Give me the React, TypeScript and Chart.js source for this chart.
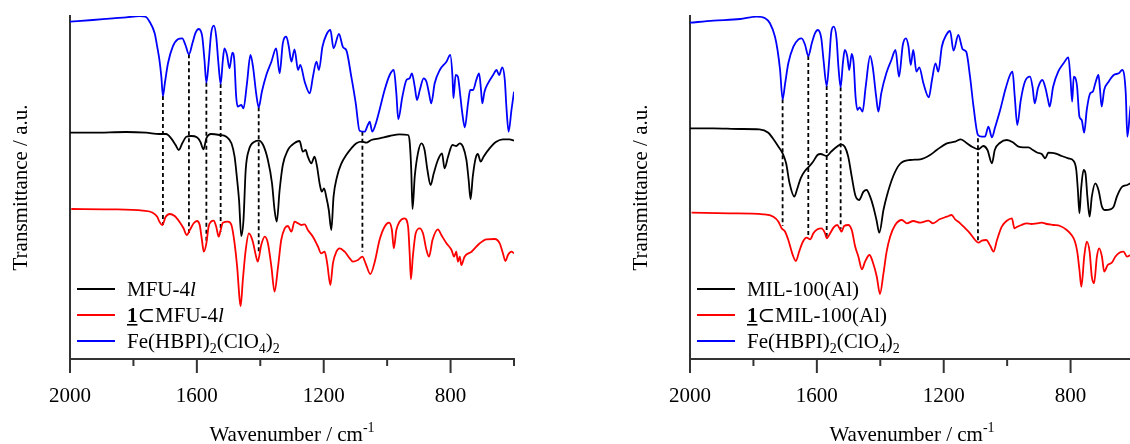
import React, { useEffect, useRef } from 'react';
import { Chart, registerables } from 'chart.js';

Chart.register(...registerables);

// ---------- axis ticks ----------
const X_TICKS = [2000, 1800, 1600, 1400, 1200, 1000, 800, 600];
const X_MAJOR = [2000, 1600, 1200, 800];

// ---------- MFU-4l panel: [wavenumber, transmittance (a.u.)] ----------
const MFU_BLUE: [number, number][] = [
  [2000, 337.3], [1928, 339], [1865, 340.7], [1823, 341.7], [1781, 343], [1762, 342.3], [1749, 337.3],
  [1733, 325.7], [1725, 312.3], [1718, 299], [1712, 282.3], [1707, 263], [1701, 275.7], [1691, 295.7],
  [1676, 312.3], [1660, 319.7], [1646, 320.7], [1636, 314], [1625, 304.7], [1614, 315.7], [1604, 326.3],
  [1594, 330], [1583, 322.3], [1576, 299], [1570, 276.3], [1563, 295.7], [1555, 325.7], [1546, 333.3],
  [1539, 322.3], [1532, 295.7], [1525, 275], [1518, 299], [1513, 310.7], [1505, 304], [1497, 290.7],
  [1488, 306.3], [1482, 299], [1476, 262.3], [1471, 252.3], [1460, 254], [1453, 250.7], [1442, 275.7],
  [1431, 304], [1423, 292.3], [1413, 265.7], [1405, 251.7], [1395, 267.3], [1381, 284], [1365, 297.3],
  [1350, 310.7], [1339, 285.7], [1329, 315.7], [1318, 322.3], [1310, 312.3], [1302, 297.3], [1292, 309.7],
  [1281, 289], [1274, 294], [1260, 277.3], [1244, 265.7], [1234, 282.3], [1223, 297.3], [1215, 289],
  [1204, 312.3], [1192, 324], [1179, 329], [1169, 310.7], [1152, 325], [1139, 311.7], [1129, 309],
  [1113, 282.3], [1099, 255.7], [1087, 228.3], [1071, 227.3], [1061, 234], [1055, 237.3], [1047, 227.3],
  [1034, 237.3], [1024, 249], [1008, 269], [992, 284], [979, 289], [971, 265.7], [965, 239.7],
  [952, 262.3], [939, 279], [929, 280.7], [922, 285.7], [913, 272.3], [906, 259], [897, 269],
  [885, 280.7], [876, 277.3], [868, 265.7], [861, 255.7], [850, 275.7], [834, 289], [813, 297.3],
  [801, 304], [794, 282.3], [791, 260.7], [784, 284], [777, 282.3], [769, 262.3], [763, 245.7],
  [755, 231.7], [745, 255.7], [738, 269], [729, 269], [719, 279], [710, 285.7], [704, 269], [700, 255.7],
  [693, 267.3], [682, 275.7], [666, 284], [655, 289], [647, 284], [637, 291.7], [629, 279], [624, 252.3],
  [617, 227.3], [608, 249], [600, 267.3],
];

const MFU_BLACK: [number, number][] = [
  [2000, 226.3], [1928, 226.3], [1823, 227], [1760, 226.3], [1718, 225], [1697, 225], [1681, 220.7],
  [1667, 214], [1657, 209], [1646, 215.7], [1633, 222.3], [1618, 223], [1600, 221.7], [1589, 217.3],
  [1579, 209.7], [1570, 220.7], [1555, 225], [1528, 224], [1507, 222.3], [1491, 215.7], [1481, 202.3],
  [1474, 182.3], [1467, 159], [1460, 123], [1453, 139], [1446, 189], [1436, 209], [1418, 217.3],
  [1405, 218.3], [1391, 214], [1376, 199], [1363, 175.7], [1355, 149], [1348, 137.3], [1339, 169],
  [1329, 194], [1313, 209], [1300, 214], [1276, 218], [1266, 207.3], [1257, 209], [1250, 202.3],
  [1239, 195.7], [1229, 202.3], [1221, 192.3], [1213, 175.7], [1206, 167.3], [1199, 170.7], [1192, 162.3],
  [1184, 149], [1176, 129], [1169, 162.3], [1158, 182.3], [1144, 195.7], [1129, 204], [1113, 210.7],
  [1097, 215.7], [1079, 217.3], [1066, 216.3], [1050, 219], [1024, 220.7], [992, 223], [961, 224.7],
  [934, 224], [929, 217.3], [924, 189], [920, 150], [913, 182.3], [903, 205.7], [892, 215.7], [882, 209],
  [873, 189], [863, 174], [853, 185.7], [840, 199], [827, 205.7], [819, 190.7], [808, 202.3], [794, 214],
  [782, 213], [771, 215.7], [761, 212.3], [750, 199], [743, 179], [737, 159.7], [730, 182.3], [721, 200.7],
  [714, 205], [705, 197.3], [696, 202.3], [677, 210.7], [656, 217.3], [635, 219.7], [614, 219.7], [600, 218.3],
];

const MFU_RED: [number, number][] = [
  [1996, 150], [1875, 149.7], [1770, 148.3], [1739, 146.3], [1725, 142.3], [1718, 137.3], [1709, 134],
  [1699, 141.7], [1686, 145], [1670, 143], [1655, 137.3], [1642, 130.7], [1632, 124], [1621, 129.7],
  [1610, 135.7], [1600, 138], [1591, 134], [1584, 119], [1578, 107.3], [1570, 115.7], [1563, 132.3],
  [1555, 137.3], [1547, 138.3], [1539, 132.3], [1531, 122.3], [1525, 129], [1518, 136.3], [1502, 137.3],
  [1491, 134], [1481, 115.7], [1473, 92.3], [1465, 59], [1462, 53], [1455, 79], [1446, 109], [1436, 125.7],
  [1425, 119], [1413, 102.3], [1408, 97.3], [1397, 114], [1386, 122.3], [1376, 115.7], [1365, 92.3],
  [1355, 67.3], [1344, 92.3], [1334, 119], [1323, 130.7], [1313, 133], [1302, 127.3], [1292, 137.3],
  [1281, 135.7], [1271, 134], [1260, 134.7], [1250, 129], [1234, 122.3], [1218, 112.3], [1208, 105.7],
  [1197, 107.3], [1189, 95.7], [1179, 74], [1171, 95.7], [1160, 107.3], [1150, 110.7], [1134, 107.3],
  [1118, 100.7], [1108, 97.3], [1092, 99], [1078, 102.3], [1068, 95.7], [1053, 85], [1039, 97.3],
  [1024, 119], [1008, 132.3], [994, 136.3], [985, 129], [979, 110.7], [971, 129], [961, 137.3],
  [945, 140.7], [934, 132.3], [929, 105.7], [925, 79.7], [919, 102.3], [910, 125.7], [897, 130.7],
  [887, 125.7], [876, 109], [868, 102.3], [857, 119], [840, 129.7], [829, 124], [813, 115.7], [797, 109],
  [789, 102.3], [782, 107.3], [777, 97.3], [771, 102.3], [766, 94], [756, 102.3], [734, 107.3],
  [708, 115.7], [687, 119.7], [661, 120], [645, 115.7], [635, 105.7], [627, 98], [619, 104], [608, 107.3],
  [600, 105.7],
];

const MFU_DASH_W = [1707, 1625, 1570, 1525, 1405, 1078];
const MFU_DASH_TOP = [263, 304.7, 276.3, 275, 251.7, 227.3];
const MFU_DASH_BOTTOM = [134, 126, 116, 127.3, 106, 107.3];

// ---------- MIL-100(Al) panel ----------
const MIL_BLUE: [number, number][] = [
  [2000, 336.3], [1926, 338.3], [1842, 340], [1790, 342.3], [1763, 340.7], [1748, 335.7], [1732, 322.3],
  [1724, 309], [1716, 289], [1708, 259.7], [1700, 275.7], [1690, 295.7], [1674, 312.3], [1658, 319.7],
  [1648, 320.7], [1637, 314], [1627, 303], [1616, 315.7], [1606, 325.7], [1597, 329], [1586, 320.7],
  [1579, 299], [1569, 273], [1561, 299], [1555, 325.7], [1547, 332.3], [1538, 320.7], [1532, 292.3],
  [1525, 271.7], [1518, 295.7], [1512, 309], [1504, 302.3], [1498, 289], [1490, 305], [1484, 295.7],
  [1478, 262.3], [1472, 249], [1465, 251.7], [1456, 247.3], [1446, 272.3], [1432, 303], [1424, 292.3],
  [1413, 262.3], [1406, 247.3], [1397, 265.7], [1381, 285.7], [1365, 299], [1352, 309], [1341, 282.3],
  [1329, 314], [1319, 320.7], [1311, 312.3], [1304, 294], [1296, 309], [1286, 287.3], [1277, 291.7],
  [1264, 275.7], [1247, 261.7], [1237, 279], [1226, 295.7], [1217, 287.3], [1206, 312.3], [1192, 324],
  [1180, 328], [1169, 308.3], [1154, 324], [1140, 309.7], [1129, 307.3], [1117, 282.3], [1106, 252.3],
  [1092, 224], [1080, 222.3], [1070, 222.3], [1059, 232.3], [1048, 221.7], [1038, 231.7], [1022, 249],
  [1006, 269], [991, 284], [983, 287.3], [976, 262.3], [968, 234], [957, 259], [944, 277.3], [928, 282.3],
  [920, 272.3], [913, 255.7], [903, 270.7], [889, 279], [879, 270.7], [871, 259], [866, 252.3],
  [855, 272.3], [839, 287.3], [822, 295.7], [807, 301.7], [800, 279], [795, 257.3], [790, 282.3],
  [780, 274], [772, 242.3], [765, 239], [757, 226.3], [749, 249], [738, 265.7], [730, 267.3], [722, 275.7],
  [712, 284], [707, 269], [702, 252.3], [694, 269], [680, 277.3], [664, 284], [648, 285.7], [637, 289],
  [626, 265.7], [621, 222.3], [611, 252.3], [600, 267],
];

const MIL_BLACK: [number, number][] = [
  [2000, 230.7], [1926, 230.7], [1842, 230], [1781, 229.7], [1753, 226.3], [1739, 220.7], [1721, 212.3],
  [1708, 205.7], [1697, 195.7], [1686, 175.7], [1671, 162.3], [1663, 169], [1651, 180.7], [1637, 188.3],
  [1625, 192.3], [1612, 197.3], [1598, 204], [1588, 205], [1569, 203], [1555, 207.3], [1537, 212.3],
  [1524, 214.7], [1512, 212.3], [1501, 202.3], [1490, 182.3], [1479, 164], [1467, 159], [1453, 167.3],
  [1443, 169], [1432, 162.3], [1422, 152.3], [1412, 139], [1403, 126.3], [1390, 149], [1380, 162.3],
  [1359, 183], [1338, 195], [1306, 199], [1274, 199.7], [1243, 204], [1222, 209], [1190, 215.7],
  [1164, 217.3], [1146, 219.7], [1127, 215.7], [1111, 212.3], [1091, 209.7], [1075, 213], [1062, 209],
  [1048, 195.7], [1039, 209], [1022, 216.3], [1001, 219], [980, 216.3], [964, 212.3], [949, 211.7],
  [933, 211.7], [919, 209], [904, 206.3], [891, 205], [880, 200.7], [870, 206.3], [849, 205.7], [828, 203],
  [807, 200.7], [791, 198.3], [782, 189], [777, 169], [772, 145.7], [767, 169], [759, 189], [753, 185.7],
  [747, 162.3], [740, 142.3], [733, 162.3], [722, 175.7], [712, 169], [701, 152.3], [691, 149],
  [675, 149.7], [664, 152.3], [654, 162.3], [637, 172.3], [621, 174], [611, 175.7], [600, 177],
];

const MIL_RED: [number, number][] = [
  [1995, 146.3], [1874, 145.7], [1769, 144.7], [1737, 142.3], [1721, 137.3], [1711, 130.7], [1700, 127.3],
  [1690, 119], [1676, 104], [1666, 98], [1656, 107.3], [1644, 117.3], [1632, 121.3], [1621, 119.7],
  [1611, 125.7], [1598, 129.7], [1586, 130.7], [1574, 125.7], [1569, 120.7], [1558, 125.7], [1547, 131.7],
  [1536, 134], [1527, 129.7], [1522, 127.3], [1514, 133], [1501, 134], [1490, 129], [1479, 112.3],
  [1469, 102.3], [1458, 89.7], [1448, 97.3], [1434, 104], [1424, 97.3], [1411, 82.3], [1401, 65],
  [1390, 85.7], [1380, 107.3], [1369, 122.3], [1353, 134], [1332, 139], [1316, 135.7], [1296, 138],
  [1274, 136.3], [1248, 138.3], [1234, 135.7], [1213, 139.7], [1190, 142.3], [1175, 144], [1164, 139.7],
  [1148, 135.7], [1132, 130.7], [1117, 125.7], [1101, 119], [1090, 116.3], [1080, 118.3], [1066, 119],
  [1053, 113], [1043, 107.3], [1032, 119], [1017, 132.3], [1001, 138.3], [985, 140.7], [977, 130.7],
  [968, 132.3], [955, 134], [939, 135.7], [923, 135], [906, 135.7], [891, 136.3], [875, 135], [854, 134],
  [833, 133], [812, 129], [797, 124], [786, 117.3], [779, 107.3], [772, 89], [766, 72.3], [757, 102.3],
  [749, 117.3], [740, 107.3], [733, 82.3], [726, 75.7], [717, 102.3], [710, 110.7], [701, 102.3],
  [694, 87.3], [683, 94], [670, 96.3], [659, 102.3], [646, 106.3], [633, 107.3], [622, 102.3], [611, 104],
  [600, 105],
];

const MIL_DASH_W = [1708, 1627, 1569, 1525, 1092];
const MIL_DASH_TOP = [259.7, 303, 273, 271.7, 220.7];
const MIL_DASH_BOTTOM = [133, 122.3, 122.3, 129.7, 116.3];

// ---------- styling ----------
const FAMILY = "'Liberation Serif', 'Times New Roman', 'DejaVu Serif', serif";
const AXIS = '#333333';
const C_BLACK = '#000000';
const C_RED = '#ff0000';
const C_BLUE = '#0000ff';

type Seg = { t: string; italic?: boolean; bold?: boolean; sub?: boolean; sup?: boolean; underline?: boolean };

const LEG_FE: Seg[] = [
  { t: 'Fe(HBPI)' }, { t: '2', sub: true }, { t: '(ClO' }, { t: '4', sub: true }, { t: ')' }, { t: '2', sub: true },
];
const MFU_LEGEND: { color: string; segs: Seg[] }[] = [
  { color: C_BLACK, segs: [{ t: 'MFU-4' }, { t: 'l', italic: true }] },
  { color: C_RED, segs: [{ t: '1', bold: true, underline: true }, { t: '\u2282MFU-4' }, { t: 'l', italic: true }] },
  { color: C_BLUE, segs: LEG_FE },
];
const MIL_LEGEND: { color: string; segs: Seg[] }[] = [
  { color: C_BLACK, segs: [{ t: 'MIL-100(Al)' }] },
  { color: C_RED, segs: [{ t: '1', bold: true, underline: true }, { t: '\u2282MIL-100(Al)' }] },
  { color: C_BLUE, segs: LEG_FE },
];

function segFont(s: Seg, size: number) {
  const sz = s.sub || s.sup ? Math.round(size * 0.66) : size;
  return `${s.italic ? 'italic ' : ''}${s.bold ? 'bold ' : ''}${sz}px ${FAMILY}`;
}

function drawRich(ctx: CanvasRenderingContext2D, segs: Seg[], x: number, baseline: number, size: number, center: boolean) {
  ctx.save();
  ctx.textBaseline = 'alphabetic';
  ctx.textAlign = 'left';
  const widths = segs.map((s) => {
    ctx.font = segFont(s, size);
    return ctx.measureText(s.t).width;
  });
  const total = widths.reduce((a, b) => a + b, 0);
  let cx = center ? x - total / 2 : x;
  segs.forEach((s, i) => {
    ctx.font = segFont(s, size);
    const dy = s.sub ? size * 0.25 : s.sup ? -size * 0.42 : 0;
    ctx.fillText(s.t, cx, baseline + dy);
    if (s.underline) ctx.fillRect(cx, baseline + 2, widths[i], 1.6);
    cx += widths[i];
  });
  ctx.restore();
}

function makeDecor(legend: { color: string; segs: Seg[] }[]) {
  return {
    id: 'decor',
    afterDraw(chart: any) {
      const ctx: CanvasRenderingContext2D = chart.ctx;
      const a = chart.chartArea;
      const xs = chart.scales.x;
      ctx.save();
      // tick marks (major long, minor short), placed through the x scale
      ctx.strokeStyle = AXIS;
      ctx.lineWidth = 2;
      X_TICKS.forEach((w) => {
        const px = xs.getPixelForValue(w);
        const len = X_MAJOR.includes(w) ? 14 : 7;
        ctx.beginPath();
        ctx.moveTo(px, a.bottom);
        ctx.lineTo(px, a.bottom + len);
        ctx.stroke();
      });
      ctx.fillStyle = '#000';
      // y title
      ctx.save();
      ctx.translate(21, (a.top + a.bottom) / 2);
      ctx.rotate(-Math.PI / 2);
      ctx.font = `21px ${FAMILY}`;
      ctx.textAlign = 'center';
      ctx.textBaseline = 'middle';
      ctx.fillText('Transmittance / a.u.', 0, 0);
      ctx.restore();
      // x title
      drawRich(ctx, [{ t: 'Wavenumber / cm' }, { t: '-1', sup: true }], (a.left + a.right) / 2, 441, 21, true);
      // legend
      legend.forEach((item, i) => {
        const y = 289 + i * 26;
        ctx.strokeStyle = item.color;
        ctx.lineWidth = 2;
        ctx.beginPath();
        ctx.moveTo(77, y);
        ctx.lineTo(115, y);
        ctx.stroke();
        ctx.fillStyle = '#000';
        drawRich(ctx, item.segs, 127, y + 7, 21, false);
      });
      ctx.restore();
    },
  };
}

function spectrum(points: [number, number][], color: string) {
  return {
    data: points.map(([w, t]) => ({ x: w, y: t })),
    borderColor: color,
    borderWidth: 1.8,
    pointRadius: 0,
    fill: false,
    cubicInterpolationMode: 'monotone' as const,
  };
}

function dashes(ws: number[], tops: number[], bottoms: number[]) {
  return ws.map((w, i) => ({
    data: [{ x: w, y: tops[i] }, { x: w, y: bottoms[i] }],
    borderColor: '#000',
    borderWidth: 1.8,
    borderDash: [4, 3],
    pointRadius: 0,
    fill: false,
    tension: 0,
  }));
}

function Panel(props: {
  left: number;
  black: [number, number][];
  red: [number, number][];
  blue: [number, number][];
  dw: number[];
  dt: number[];
  db: number[];
  legend: { color: string; segs: Seg[] }[];
}) {
  const ref = useRef<HTMLCanvasElement>(null);
  useEffect(() => {
    const chart = new Chart(ref.current as HTMLCanvasElement, {
      type: 'line',
      data: {
        datasets: [
          spectrum(props.black, C_BLACK),
          spectrum(props.red, C_RED),
          spectrum(props.blue, C_BLUE),
          ...dashes(props.dw, props.dt, props.db),
        ] as any,
      },
      options: {
        responsive: false,
        animation: false,
        events: [],
        devicePixelRatio: 1,
        layout: { padding: { left: 0, top: 16, right: 86, bottom: 0 } },
        plugins: { legend: { display: false }, tooltip: { enabled: false }, title: { display: false } },
        scales: {
          x: {
            type: 'linear',
            reverse: true,
            min: 600,
            max: 2000,
            afterFit: (s: any) => {
              s.height = 85;
            },
            afterBuildTicks: (s: any) => {
              s.ticks = X_TICKS.map((v) => ({ value: v }));
            },
            ticks: {
              autoSkip: false,
              maxRotation: 0,
              padding: 11,
              color: '#000',
              font: { family: FAMILY, size: 21 },
              callback: (v: any) => (X_MAJOR.includes(Number(v)) ? String(v) : ''),
            },
            grid: {
              display: true,
              drawOnChartArea: false,
              drawTicks: true,
              tickLength: 14,
              tickWidth: 0,
              tickColor: 'rgba(0,0,0,0)',
            },
            border: { display: true, width: 2, color: AXIS },
          },
          y: {
            type: 'linear',
            min: 0,
            max: 343,
            afterFit: (s: any) => {
              s.width = 70;
            },
            ticks: { display: false },
            grid: { display: false, drawTicks: false },
            border: { display: true, width: 2, color: AXIS },
          },
        },
      } as any,
      plugins: [makeDecor(props.legend)],
    });
    return () => chart.destroy();
  }, []);
  return (
    <canvas
      ref={ref}
      width={600}
      height={444}
      style={{ position: 'absolute', left: props.left, top: 0, width: 600, height: 444 }}
    />
  );
}

export default function App() {
  return (
    <div
      style={{ position: 'absolute', left: 0, top: 0, width: 1130, height: 444, overflow: 'hidden', background: '#fff' }}
    >
      <Panel left={0} black={MFU_BLACK} red={MFU_RED} blue={MFU_BLUE} dw={MFU_DASH_W} dt={MFU_DASH_TOP} db={MFU_DASH_BOTTOM} legend={MFU_LEGEND} />
      <Panel left={620} black={MIL_BLACK} red={MIL_RED} blue={MIL_BLUE} dw={MIL_DASH_W} dt={MIL_DASH_TOP} db={MIL_DASH_BOTTOM} legend={MIL_LEGEND} />
    </div>
  );
}
